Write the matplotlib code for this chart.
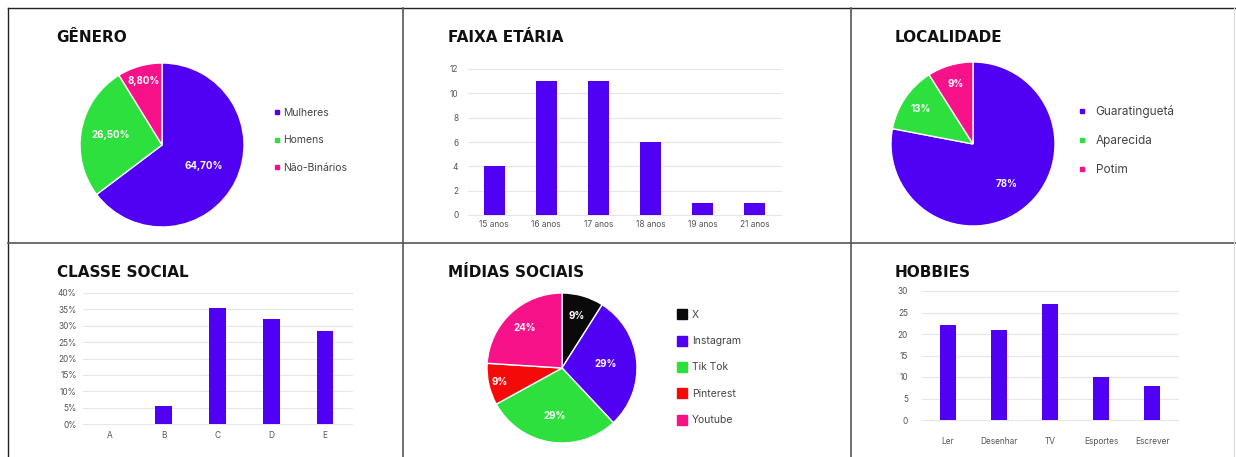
import numpy as np
import matplotlib
matplotlib.use('Agg')
import matplotlib.pyplot as plt
from matplotlib.lines import Line2D

plt.rcParams['font.family'] = ['Inter', 'DejaVu Sans']

# data
genero_labels = ['Mulheres', 'Homens', 'Não-Binários']
genero_vals = [64.7, 26.5, 8.8]

idade_labels = ['15 anos', '16 anos', '17 anos', '18 anos', '19 anos', '21 anos']
idade_vals = [4, 11, 11, 6, 1, 1]

local_labels = ['Guaratinguetá', 'Aparecida', 'Potim']
local_vals = [78, 13, 9]

classe_labels = ['A', 'B', 'C', 'D', 'E']
classe_vals = [0, 5.5, 35.5, 32, 28.5]

midia_labels = ['X', 'Instagram', 'Tik Tok', 'Pinterest', 'Youtube']
midia_vals = [9, 29, 29, 9, 24]

hobby_labels = ['Ler', 'Desenhar', 'TV', 'Esportes', 'Escrever']
hobby_vals = [22, 21, 27, 10, 8]

PURPLE = '#5000F2'
GREEN = '#2EE03E'
PINK = '#F8128A'
RED = '#F50A0A'
BLACK = '#0A0A0A'

W, H = 1236, 457
fig = plt.figure(figsize=(W / 100, H / 100), dpi=100)
fig.patch.set_facecolor('white')


def box(x0, y0, x1, y1):
    return [x0 / W, 1 - y1 / H, (x1 - x0) / W, (y1 - y0) / H]


def fline(x0, y0, x1, y1, color, lw):
    fig.add_artist(Line2D([x0 / W, x1 / W], [1 - y0 / H, 1 - y1 / H],
                          transform=fig.transFigure, color=color, lw=lw))


def title(x, y, s):
    fig.text(x / W, 1 - y / H, s, fontsize=11, fontweight='bold', color='#111111',
             family='DejaVu Sans', ha='left', va='top')


def pie_panel(cx, cy, r, vals, colors, fmt, dists):
    ax = fig.add_axes(box(cx - r, cy - r, cx + r, cy + r))
    wedges, _, autos = ax.pie(vals, colors=colors, startangle=90, counterclock=False,
                              autopct=fmt, wedgeprops=dict(edgecolor='white', lw=1),
                              textprops=dict(color='white', fontsize=7, fontweight='bold'))
    for w, t, d in zip(wedges, autos, dists):
        a = np.deg2rad((w.theta1 + w.theta2) / 2)
        t.set_position((d * np.cos(a), d * np.sin(a)))
        t.set_ha('center')
        t.set_va('center')
    ax.set_xlim(-1, 1)
    ax.set_ylim(-1, 1)
    return ax


def legend(labels, colors, x, y, fs, ms, hl, tp, ls):
    handles = [Line2D([], [], marker='s', linestyle='none', color=c, markersize=ms)
               for c in colors]
    fig.legend(handles, labels, loc='center left', bbox_to_anchor=(x / W, 1 - y / H),
               frameon=False, fontsize=fs, handlelength=hl, handletextpad=tp,
               labelspacing=ls, borderpad=0, borderaxespad=0, labelcolor='#444444')


def bar_panel(rect, cats, vals, ylim, yticks, width, xpad, ypad, pct=False):
    ax = fig.add_axes(box(*rect))
    x = np.arange(len(cats))
    ax.bar(x, vals, width=width, color=PURPLE, zorder=3)
    ax.set_xlim(-0.5, len(cats) - 0.5)
    ax.set_ylim(*ylim)
    ax.set_yticks(yticks)
    if pct:
        ax.set_yticklabels(['%d%%' % t for t in yticks])
    ax.set_xticks(x)
    ax.set_xticklabels(cats)
    ax.grid(axis='y', color='#e6e6e6', lw=0.8, zorder=0)
    for s in ax.spines.values():
        s.set_visible(False)
    ax.tick_params(axis='x', length=0, labelsize=6, colors='#555555', pad=xpad)
    ax.tick_params(axis='y', length=0, labelsize=6, colors='#555555', pad=ypad)
    for gl in ax.get_ygridlines():
        gl.set_clip_on(False)
    return ax


# GÊNERO
title(56, 30, 'GÊNERO')
pie_panel(162, 145, 82, genero_vals, [PURPLE, GREEN, PINK],
          lambda p: ('%.2f%%' % p).replace('.', ','), [0.57, 0.64, 0.81])
legend(genero_labels, [PURPLE, GREEN, PINK], 274.4, 140.5, 7.5, 2.6, 0.5, 0.33, 1.67)

# FAIXA ETÁRIA
title(448, 30, 'FAIXA ETÁRIA')
bar_panel((468, 69, 781, 215), idade_labels, idade_vals, (0, 12), range(0, 13, 2),
          0.4, 3.5, 7)

# LOCALIDADE
title(895, 30, 'LOCALIDADE')
pie_panel(973, 144, 82, local_vals, [PURPLE, GREEN, PINK],
          lambda p: '%.0f%%' % p, [0.64, 0.77, 0.76])
legend(local_labels, [PURPLE, GREEN, PINK], 1079.5, 140.5, 8.5, 2.6, 0.5, 0.86, 1.41)

# CLASSE SOCIAL
title(57, 265, 'CLASSE SOCIAL')
bar_panel((83, 293, 352, 424), classe_labels, classe_vals, (0, 40), range(0, 41, 5),
          0.31, 5, 4.5, pct=True)

# MÍDIAS SOCIAIS
title(448, 265, 'MÍDIAS SOCIAIS')
midia_colors = [BLACK, PURPLE, GREEN, RED, PINK]
pie_panel(562, 368, 75, midia_vals, midia_colors,
          lambda p: '%.0f%%' % p, [0.72, 0.59, 0.65, 0.85, 0.73])
legend(midia_labels, midia_colors, 676.8, 367.5, 7.5, 6.8, 1.0, 0.46, 1.57)

# HOBBIES
title(895, 265, 'HOBBIES')
bar_panel((922, 291, 1178, 420), hobby_labels, hobby_vals, (0, 30), range(0, 31, 5),
          0.31, 12, 10)

# panel borders
fline(8, 8, 1236, 8, '#222222', 1.0)
fline(8, 8, 8, 457, '#222222', 1.0)
fline(403, 8, 403, 457, '#555555', 1.2)
fline(851, 8, 851, 457, '#555555', 1.2)
fline(8, 243, 1236, 243, '#555555', 1.2)
fline(1234, 8, 1234, 457, '#dddddd', 0.8)

fig.savefig('out.png', dpi=100)
